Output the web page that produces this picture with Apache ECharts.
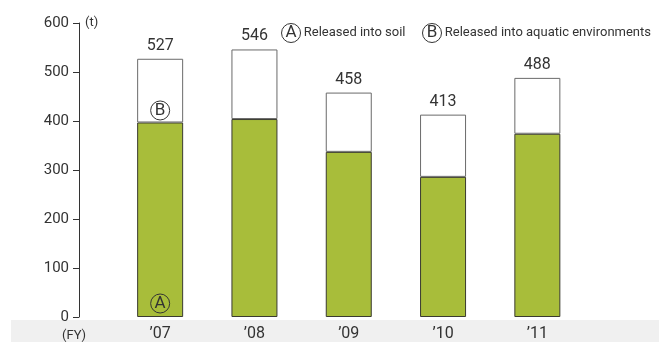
<!DOCTYPE html>
<html>
<head>
<meta charset="utf-8">
<style>
  html, body { margin: 0; padding: 0; background: #fff; }
  #chart { width: 659px; height: 342px; }
</style>
<script src="https://cdn.jsdelivr.net/npm/echarts@6/dist/echarts.min.js"></script>
</head>
<body>
<div id="chart"></div>
<script>
// Fiscal years on the category axis
const years = ["\u201907", "\u201908", "\u201909", "\u201910", "\u201911"];
// Total releases (t) per year
const totals = [527, 546, 458, 413, 488];
// Released into soil (t)
const soil = [397, 404, 337, 286, 374];
// Released into aquatic environments (t): remainder of each total
const aquatic = totals.map((t, i) => t - soil[i]);
// Value axis ticks
const yTicks = [0, 100, 200, 300, 400, 500, 600];

const FONT = "Roboto";
const circ = {
  width: 19, height: 19, lineHeight: 19, align: "center",
  borderColor: "#333", borderWidth: 1, borderRadius: 10,
  fontSize: 17, color: "#333", fontFamily: FONT
};

const chart = echarts.init(document.getElementById("chart"), null, { renderer: "canvas" });

chart.setOption({
  animation: false,
  textStyle: { fontFamily: FONT },
  grid: { left: 113, right: 74.5, top: 23, bottom: 22 },
  legend: {
    right: 3, top: 18,
    icon: "none",
    itemWidth: 0, itemHeight: 0, itemGap: 12,
    selectedMode: false,
    textStyle: {
      fontSize: 13, color: "#333", fontFamily: FONT,
      rich: { c: circ }
    },
    formatter: name => (name === "Released into soil" ? "{c|A} " : "{c|B} ") + name,
    data: ["Released into soil", "Released into aquatic environments"]
  },
  xAxis: {
    type: "category",
    data: years,
    axisLine: { show: false },
    axisTick: { show: false },
    axisLabel: { fontSize: 16, color: "#333", margin: 9, fontFamily: FONT }
  },
  yAxis: {
    type: "value",
    min: yTicks[0], max: yTicks[yTicks.length - 1], interval: 100,
    offset: 34,
    splitLine: { show: false },
    axisLine: { show: true, lineStyle: { color: "#333", width: 1 } },
    axisTick: { show: true, length: 6, lineStyle: { color: "#333" } },
    axisLabel: { fontSize: 15, color: "#333", margin: 10, fontFamily: FONT }
  },
  graphic: [
    { type: "rect", z: -10, shape: { x: 11, y: 320, width: 648, height: 22 }, style: { fill: "#f0f0f0" } },
    { type: "text", left: 62, top: 329, style: { text: "(FY)", fontSize: 13, fill: "#333", fontFamily: FONT } },
    { type: "text", left: 85, top: 16, style: { text: "(t)", fontSize: 13, fill: "#333", fontFamily: FONT } }
  ],
  series: [
    {
      name: "Released into soil",
      type: "bar",
      stack: "total",
      barWidth: 46,
      itemStyle: { color: "#a8bd3a", borderColor: "#3a3a30", borderWidth: 1 },
      data: soil.map((v, i) => i === 0 ? {
        value: v,
        label: {
          show: true, position: "insideBottom", distance: 4,
          formatter: "{c|A}", rich: { c: circ }
        }
      } : v)
    },
    {
      name: "Released into aquatic environments",
      type: "bar",
      stack: "total",
      barWidth: 46,
      itemStyle: { color: "#ffffff", borderColor: "#6a6a6a", borderWidth: 1 },
      label: {
        show: true, position: "top", distance: 5,
        fontSize: 16, color: "#333", fontFamily: FONT,
        formatter: p => String(totals[p.dataIndex])
      },
      data: aquatic,
      // Circled "B" just above the soil segment of the first bar
      markPoint: {
        silent: true,
        symbol: "circle",
        symbolSize: 1,
        itemStyle: { color: "rgba(0,0,0,0)" },
        label: {
          show: true, position: "inside", offset: [0, -12],
          formatter: "{c|B}", rich: { c: circ }
        },
        data: [{ coord: [0, soil[0]] }]
      }
    }
  ]
});
</script>
</body>
</html>
